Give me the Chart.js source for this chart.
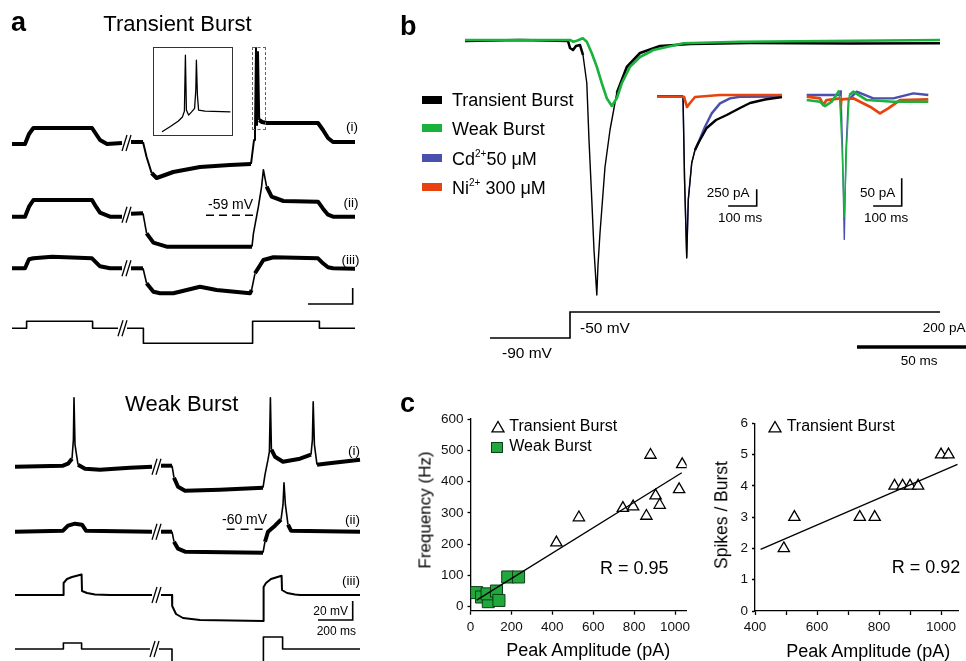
<!DOCTYPE html>
<html>
<head>
<meta charset="utf-8">
<script src="https://cdn.jsdelivr.net/npm/chart.js@4.4.0/dist/chart.umd.min.js"></script>
<style>
html, body { margin: 0; padding: 0; background: #fff; }
#fig { position: relative; width: 966px; height: 661px; overflow: hidden; font-family: "Liberation Sans", Arial, Helvetica, sans-serif; color: #000; }
#fig canvas { position: absolute; }
.t { position: absolute; line-height: 1; white-space: nowrap; }
</style>
</head>
<body>
<div id="fig"></div>
<script>
// ---- panel a, transient burst cell: [time ms, mV], null = break in the sweep ----
const tbTrace1 = [[0,-60],[65,-60],[85,-50],[107,-44],[400,-44],[420,-50],[440,-56],[475,-60],[550,-59],[560,null],
  [595,-58],[655,-58],[673,-73],[698,-89],[723,-94],[765,-91],[806,-88],[940,-83],[1090,-81],[1195,-80],[1210,-56],[1215,-48],
  [1220,36],[1225,-41],[1230,32],[1236,-36],[1250,-38],[1275,-39],[1530,-39],[1555,-46],[1580,-54],[1605,-58],[1715,-58]];
const tbTrace2 = [[0,-60],[65,-60],[85,-50],[107,-43.3],[400,-43.3],[420,-50],[440,-56],[490,-60],[550,-60],[560,null],
  [595,-57],[655,-56.6],[673,-76.6],[707,-86],[773,-90],[1200,-90],[1207,-77],[1232,-50],[1248,-30],[1257,-13],[1273,-30],
  [1298,-40],[1357,-44.3],[1530,-45],[1555,-52],[1580,-58],[1605,-60],[1715,-60]];
const tbTrace3 = [[0,-60],[65,-60],[85,-51],[107,-50],[200,-48.5],[400,-50],[420,-54],[440,-58],[490,-60],[550,-60],[560,null],
  [595,-60],[655,-60],[673,-75],[707,-83.4],[740,-85],[807,-85],[940,-78.4],[1023,-81.7],[1190,-85],[1198,-81.7],[1215,-65],
  [1257,-51.7],[1307,-49],[1530,-50],[1555,-55],[1580,-59],[1605,-60],[1715,-60.5]];
const tbCommand = [[0,0],[73,0],[73,7],[403,7],[403,0],[530,0],[540,null],[575,0],[657,0],[657,-15],[1203,-15],[1203,7],[1537,7],[1537,0],[1715,0]];
const tbInset = [[4.5,-47.7],[8.7,-42.5],[12.7,-37],[14.7,-33],[15.7,-27],[16.2,29],[16.7,-26],[17.8,-31],[19.2,-28],[20.8,-24.3],
  [21.4,-6],[21.7,24],[22.2,-11],[22.8,-26],[26,-27],[38.7,-27.7]];
const tbRest = -58.5;
const tbScaleBar = [[1480,-147.3],[1703.5,-147.3],[1703.5,-131.3]];

// ---- panel a, weak burst cell ----
const wbTrace1 = [[15,-60],[255,-59],[280,-57],[300,-52],[307,-33],[310,9],[315,-38],[330,-58],[365,-62],[440,-63],[590,-61],[700,-60],[710,null],
  [745,-59],[800,-59],[810,-71],[830,-80],[865,-84],[1040,-83],[1255,-81],[1265,-68],[1280,-53],[1287,-45],[1292,9],[1297,-43],
  [1315,-50],[1355,-55],[1440,-52],[1495,-48],[1502,-33],[1506,5],[1512,-38],[1525,-58],[1565,-57],[1740,-53]];
const wbTrace2 = [[15,-60],[255,-59],[280,-54],[315,-52],[350,-53],[370,-59],[700,-60],[710,null],
  [745,-60],[800,-60],[810,-70],[830,-77],[865,-80],[1255,-81],[1265,-70],[1280,-60],[1315,-54],[1345,-48],[1355,-33],[1360,-11],
  [1367,-33],[1380,-53],[1395,-59],[1740,-60]];
const wbTrace3 = [[15,-60],[257,-60],[258,-48],[275,-44],[300,-42],[348,-39.5],[350,-56],[375,-58],[415,-59.5],[490,-60],[700,-60],[710,null],
  [745,-60],[800,-60],[801,-71],[820,-79],[855,-83],[940,-85],[1257,-86],[1258,-52],[1270,-48],[1295,-44],[1348,-40.7],[1350,-55],
  [1375,-58],[1415,-59.5],[1440,-60],[1740,-60]];
const wbCommand = [[15,0],[257,0],[257,6],[348,6],[348,0],[690,0],[700,null],[735,0],[800,0],[800,-30],[1257,-30],[1257,12],[1353,12],[1353,0],[1740,0]];
const wbRest = -57.5;
const wbScaleBar = [[1530,-148.3],[1703.5,-148.3],[1703.5,-129.3]];

// ---- panel b, currents: [time ms, pA]; command in mV ----
const curTransient = [[0,-4],[27.5,0],[51.5,-4],[52.5,-32],[54,-40],[55.5,-24],[57.5,-20],[59,-60],[60.9,-172],[62,-400],[63.4,-640],
  [64.5,-840],[65.9,-1020],[66.5,-900],[67.5,-772],[70,-508],[72.5,-360],[75.9,-212],[80.9,-108],[87.5,-52],[97.5,-24],[112.5,-16],
  [142.5,-12],[192.5,-14],[237.5,-13]];
const curWeak = [[0,0],[52.5,0],[54.2,-7],[55.9,-3],[58.9,7],[60.9,-7],[63.4,-53],[65.9,-107],[68.4,-173],[70.9,-233],[73.4,-264],
  [75.9,-233],[78.4,-173],[82.5,-107],[87.5,-68],[94.2,-40],[109.2,-13],[137.5,-7],[237.5,0]];
const stepCommand = [[12.5,-90],[52.5,-90],[52.5,-50],[237.5,-50]];
const curScaleBar = [[196,-1228],[251,-1228]];

const in1Transient = [[3.5,0],[94.5,0],[100,-1250],[107.5,-2420],[113,-1545],[125,-995],[136.5,-800],[148,-695],[177.5,-470],
  [210,-350],[247.5,-275],[294,-170],[329,-95],[381.5,-42],[441,-5]];
const in1Cd = [[3.5,5],[94.5,5],[100,-1250],[107.5,-2400],[113,-1545],[125,-995],[136.5,-800],[148,-695],[171.5,-450],[195,-250],
  [224,-100],[259,-25],[294,0],[441,3]];
const in1Ni = [[3.5,0],[98,0],[108.5,-155],[119,-95],[136.5,-5],[224,25],[441,25]];
const in1ScaleBar = [[252.5,-1640],[352.5,-1640],[352.5,-1390]];

const in2Cd = [[2.5,3],[119,3],[122.5,11],[127.8,-96],[134,-257],[140,-96],[148,-6],[177.5,9],[235.5,-3],[305.5,-3],[375.5,6],[428,3]];
const in2Weak = [[2.5,-6],[49,-9],[66.5,-17],[90,-9],[116.5,11],[126,-90],[134,-216],[142,-90],[151.5,3],[165.5,9],[212.5,-6],[305.5,-9],[428,-9]];
const in2Ni = [[2.5,0],[49,-3],[60.5,-15],[72,-6],[119,-3],[122,-27],[126,-5],[165.5,-3],[189,-9],[224,-18],[259,-30],[288,-21],[329,-6],[428,-5]];
const in2ScaleBar = [[235,-196.7],[335,-196.7],[335,-146.7]];

// ---- panel c ----
const freqTbX = [420,530,745,795,880,860,905,925,1020,1035];
const freqTbY = [205,285,315,320,485,290,355,325,375,455];
const freqWbX = [30,54,87,81,127,139,182,235];
const freqWbY = [45,31,16,41,50,20,95,95];
const freqFitX = [30,1033];
const freqFitY = [21,428];
const spikesTbX = [493,527,738,786,850,876,900,926,1000,1024];
const spikesTbY = [2,3,3,3,4,4,4,4,5,5];
const spikesFitX = [418,1053];
const spikesFitY = [1.97,4.69];

const BLACK = '#000', GREEN = '#19b23c', BLUE = '#4b4fae', RED = '#e8420e';

Chart.defaults.font.family = '"Liberation Sans", Arial, Helvetica, sans-serif';
const fig = document.getElementById('fig');

function pts(arr, off = 0) {
  return arr.map(([x, y]) => ({ x, y: y === null ? null : y + off }));
}

// noisy recordings look thick when flat and thin on fast edges
const noisy = (w, thin = 1.4) => ctx => {
  const dx = Math.abs(ctx.p1.x - ctx.p0.x), dy = Math.abs(ctx.p1.y - ctx.p0.y);
  return dy > 2.5 * dx + 3 ? thin : w;
};

function trace(arr, off, color, width, extra) {
  return Object.assign({
    data: pts(arr, off), borderColor: color, borderWidth: width, pointRadius: 0,
    fill: false, spanGaps: false, borderJoinStyle: 'round', borderCapStyle: 'butt'
  }, extra || {});
}

function breakMarks(tb, level, off) {
  const h = 8;
  return [0, 20].map(s => trace([[tb + s, level - h], [tb + s + 25, level + h]], off, BLACK, 1.3));
}

function lineChart(box, xr, yr, datasets) {
  const c = document.createElement('canvas');
  c.width = box[2]; c.height = box[3];
  c.style.left = box[0] + 'px'; c.style.top = box[1] + 'px';
  fig.appendChild(c);
  new Chart(c, {
    type: 'line',
    data: { datasets },
    options: {
      responsive: false, animation: false, devicePixelRatio: 1, events: [],
      layout: { padding: 0 },
      plugins: { legend: { display: false }, tooltip: { enabled: false } },
      scales: {
        x: { type: 'linear', display: false, min: xr[0], max: xr[1] },
        y: { type: 'linear', display: false, min: yr[0], max: yr[1] }
      }
    }
  });
}

// panel a, top
const offT = { i: 72.7, ii: 0, iii: -51.6, cmd: -171.6 };
lineChart([0, 0, 370, 360], [-60, 1790], [-203.3, 156.7], [
  trace(tbTrace1, offT.i, BLACK, 4, { segment: { borderWidth: noisy(4, 2) } }),
  trace(tbTrace2, offT.ii, BLACK, 4, { segment: { borderWidth: noisy(4, 1.6) } }),
  trace(tbTrace3, offT.iii, BLACK, 4, { segment: { borderWidth: noisy(4, 1.6) } }),
  trace(tbCommand, offT.cmd, BLACK, 1.6),
  ...breakMarks(550, -59, offT.i), ...breakMarks(550, -58, offT.ii), ...breakMarks(550, -60, offT.iii), ...breakMarks(530, 0, offT.cmd),
  trace([[970, tbRest], [1215, tbRest]], offT.ii, BLACK, 1.6, { borderDash: [8, 5] }),
  trace(tbScaleBar, 0, BLACK, 1.6, { borderJoinStyle: 'miter' })
]);
lineChart([152.7, 46.7, 80, 89.3], [0, 40], [-52, 37.3], [trace(tbInset, 0, BLACK, 1.3)]);

// panel a, bottom
const offW = { i: 65, ii: 0, iii: -63.3, cmd: -177.3 };
lineChart([0, 345, 370, 316], [-60, 1790], [-189.3, 126.7], [
  trace(wbTrace1, offW.i, BLACK, 4, { segment: { borderWidth: noisy(4, 1.6) } }),
  trace(wbTrace2, offW.ii, BLACK, 4, { segment: { borderWidth: noisy(4, 1.6) } }),
  trace(wbTrace3, offW.iii, BLACK, 2),
  trace(wbCommand, offW.cmd, BLACK, 1.6),
  ...breakMarks(700, -60, offW.i), ...breakMarks(700, -60, offW.ii), ...breakMarks(700, -60, offW.iii), ...breakMarks(690, 0, offW.cmd),
  trace([[1073, wbRest], [1256, wbRest]], offW.ii, BLACK, 1.6, { borderDash: [8, 6] }),
  trace(wbScaleBar, 0, BLACK, 1.6, { borderJoinStyle: 'miter' })
]);

// panel b
const cmdToAxis = mv => -1192 + (mv + 90) * 2.6;
lineChart([440, 0, 526, 380], [-12.5, 250.5], [-1360, 160], [
  trace(curWeak, 0, GREEN, 2.6, { order: 0 }),
  trace(curTransient, 0, BLACK, 2.6, { order: 1, segment: { borderWidth: noisy(2.6) } }),
  trace(stepCommand.map(([t, v]) => [t, cmdToAxis(v)]), 0, BLACK, 1.6, { borderJoinStyle: 'miter' }),
  trace(curScaleBar, 0, BLACK, 3.5)
]);
lineChart([650, 80, 140, 190], [-21, 469], [-2599.5, 250.5], [
  trace(in1Ni, 0, RED, 2.6, { order: 0 }),
  trace(in1Transient, 0, BLACK, 2.2, { order: 1, segment: { borderWidth: noisy(2.4) } }),
  trace(in1Cd, 0, BLUE, 2.2, { order: 2, segment: { borderWidth: noisy(2.4) } }),
  trace(in1ScaleBar, 0, BLACK, 1.6, { borderJoinStyle: 'miter' })
]);
lineChart([800, 80, 135, 170], [-21, 451.5], [-276.06, 30.06], [
  trace(in2Weak, 0, GREEN, 2.6, { order: 0, segment: { borderWidth: noisy(2.6) } }),
  trace(in2Ni, 0, RED, 2.8, { order: 1, segment: { borderWidth: noisy(2.8) } }),
  trace(in2Cd, 0, BLUE, 2.4, { order: 2, segment: { borderWidth: noisy(2.4) } }),
  trace(in2ScaleBar, 0, BLACK, 1.6, { borderJoinStyle: 'miter' })
]);

// panel c
const xy = (xs, ys) => xs.map((x, i) => ({ x, y: ys[i] }));
function axis(min, max, step, keep, label, fit, tickLen) {
  return {
    type: 'linear', min, max,
    afterFit: fit,
    afterBuildTicks: s => { s.ticks = s.ticks.filter(t => keep(t.value)); },
    ticks: { stepSize: step, includeBounds: false, padding: 4, color: '#111', font: { size: 13.5 }, maxRotation: 0, autoSkip: false, callback: label },
    grid: { drawOnChartArea: false, tickLength: tickLen, tickWidth: 1.3, tickColor: '#000' },
    border: { color: '#000', width: 1.3 }
  };
}
function scatterChart(box, padding, datasets, scales) {
  const c = document.createElement('canvas');
  c.width = box[2]; c.height = box[3];
  c.style.left = box[0] + 'px'; c.style.top = box[1] + 'px';
  fig.appendChild(c);
  new Chart(c, {
    type: 'scatter',
    data: { datasets },
    options: {
      responsive: false, animation: false, devicePixelRatio: 1, events: [],
      layout: { padding },
      plugins: { legend: { display: false }, tooltip: { enabled: false } },
      scales
    }
  });
}
const fitLine = (xs, ys) => ({ data: xy(xs, ys), showLine: true, borderColor: BLACK, borderWidth: 1.3, pointRadius: 0, order: 0 });
const triangles = (xs, ys) => ({ data: xy(xs, ys), pointStyle: 'triangle', pointRadius: 6.5, borderColor: BLACK, borderWidth: 1.3, backgroundColor: '#fff', order: 1 });
const near = (v, m) => Math.abs(v / m - Math.round(v / m)) < 1e-6;

scatterChart([400, 395, 300, 266], { top: 24, right: 13.3, left: 0, bottom: 0 }, [
  fitLine(freqFitX, freqFitY),
  triangles(freqTbX, freqTbY),
  { data: xy(freqWbX, freqWbY), pointStyle: 'rect', pointRadius: 8.5, borderColor: '#0e3d16', borderWidth: 1, backgroundColor: '#20a83c', order: 2 }
], {
  x: axis(0, 1057, 200, v => v >= 0 && v <= 1000 && near(v, 200), v => String(v), s => { s.height = 50.3; }, 4),
  y: axis(-12.8, 600, 100, v => v >= 0 && v <= 600 && near(v, 100), v => String(v), s => { s.width = 70.5; }, 3)
});

scatterChart([690, 395, 276, 266], { top: 28.3, right: 0, left: 0, bottom: 0 }, [
  fitLine(spikesFitX, spikesFitY),
  triangles(spikesTbX, spikesTbY)
], {
  x: axis(400, 1055.3, 100, v => v >= 400 && v <= 1000 && near(v, 100), v => near(v, 200) ? String(v) : '', s => { s.height = 50; }, 4),
  y: axis(0, 6, 1, v => v >= 0 && v <= 6 && near(v, 1), v => String(v), s => { s.width = 65; }, 3)
});

// ---- text and decorations ----
function label(html, x, base, size, opt = {}) {
  const d = document.createElement('div');
  d.className = 't';
  d.innerHTML = html;
  d.style.left = x + 'px';
  d.style.top = (base - 0.847 * size) + 'px';
  d.style.fontSize = size + 'px';
  if (opt.bold) d.style.fontWeight = 'bold';
  if (opt.center) d.style.transform = 'translateX(-50%)';
  fig.appendChild(d);
}
function vlabel(text, cx, cy, size) {
  const d = document.createElement('div');
  d.className = 't';
  d.textContent = text;
  d.style.left = cx + 'px';
  d.style.top = cy + 'px';
  d.style.fontSize = size + 'px';
  d.style.transform = 'translate(-50%, -50%) rotate(-90deg)';
  fig.appendChild(d);
}
function box(x, y, w, h, css) {
  const d = document.createElement('div');
  d.style.cssText = `position:absolute;left:${x}px;top:${y}px;width:${w}px;height:${h}px;box-sizing:border-box;${css}`;
  fig.appendChild(d);
}
function triIcon(cx, cy) {
  const d = document.createElement('div');
  d.style.cssText = `position:absolute;left:${cx - 7}px;top:${cy - 7}px;width:14px;height:14px;`;
  d.innerHTML = '<svg width="14" height="14"><polygon points="7,1.5 13,11.8 1,11.8" fill="#fff" stroke="#000" stroke-width="1.3"/></svg>';
  fig.appendChild(d);
}

// panel a
label('a', 11, 32, 27, { bold: true });
label('Transient Burst', 177.5, 31.7, 22, { center: true });
box(152.7, 46.7, 80, 89.3, 'border:1px solid #333;');
box(251.7, 47, 14.3, 83, 'border:1px dashed #666;');
label('(i)', 346, 131, 13.5);
label('(ii)', 343.5, 207, 13.5);
label('(iii)', 341.5, 264, 13.5);
label('-59 mV', 208, 209, 14);
label('Weak Burst', 181.7, 411.7, 22, { center: true });
label('(i)', 348, 455, 13.5);
label('(ii)', 345, 524, 13.5);
label('(iii)', 342, 585, 13.5);
label('-60 mV', 222, 524, 14);
label('20 mV', 313.3, 615, 12);
label('200 ms', 316.7, 635, 12);

// panel b
label('b', 400, 36, 27, { bold: true });
const sup = s => `<span style="font-size:10px;position:relative;top:-8px">${s}</span>`;
[[BLACK, 'Transient Burst', 95.5], [GREEN, 'Weak Burst', 124], [BLUE, 'Cd' + sup('2+') + '50 μM', 154], [RED, 'Ni' + sup('2+') + ' 300 μM', 183]]
  .forEach(([col, txt, top]) => {
    box(422.3, top, 20, 8, `background:${col};`);
    label(txt, 452, top + 10.8, 18);
  });
label('-50 mV', 580, 333, 15.5);
label('-90 mV', 502, 358, 15.5);
label('250 pA', 706.7, 197, 13.5);
label('100 ms', 718, 222.5, 13.5);
label('50 pA', 860, 197, 13.5);
label('100 ms', 864, 222.5, 13.5);
label('200 pA', 922.7, 332, 13.5);
label('50 ms', 900.7, 365, 13.5);

// panel c
label('c', 400, 413, 27, { bold: true });
triIcon(497.5, 427);
label('Transient Burst', 509.3, 431.7, 16);
box(491, 441.7, 11.7, 11.7, 'background:#20a83c;border:1px solid #0e3d16;');
label('Weak Burst', 509.3, 451.7, 16);
label('R = 0.95', 600, 574, 18);
vlabel('Frequency (Hz)', 425, 510, 17);
label('Peak Amplitude (pA)', 588.3, 656.5, 18, { center: true });
triIcon(775, 427);
label('Transient Burst', 786.7, 431.7, 16);
label('R = 0.92', 891.7, 573, 18);
vlabel('Spikes / Burst', 722, 515, 17.5);
label('Peak Amplitude (pA)', 868.3, 657, 18, { center: true });
</script>
</body>
</html>
